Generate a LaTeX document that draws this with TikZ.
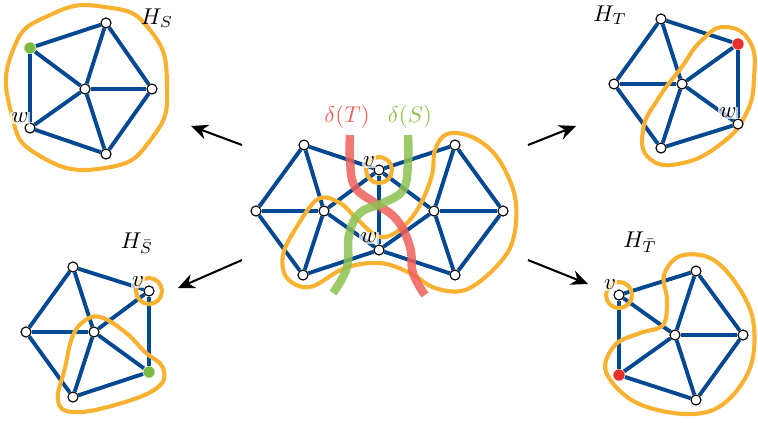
\documentclass[tikz,border=0pt]{standalone}
\usetikzlibrary{arrows.meta, backgrounds, positioning}
\definecolor{edgeblue}{HTML}{034891}
\definecolor{hullor}{HTML}{F9B132}
\definecolor{cutred}{HTML}{F0605A}
\definecolor{cutgreen}{HTML}{8CC151}
\definecolor{vred}{HTML}{E8302B}
\definecolor{vgreen}{HTML}{7DBB42}
\tikzset{
  % vertice del grafo
  vtx/.style={circle, draw=black, fill=white, line width=0.5pt, minimum size=4.4pt,
    inner sep=0pt},
  vtx green/.style={vtx, draw=none, fill=vgreen, minimum size=5pt},
  vtx red/.style={vtx, draw=none, fill=vred, minimum size=5pt},
  % spigoli
  gedge/.style={line width=1.7pt, edgeblue},
  % regione evidenziata
  hull/.style={line width=1.8pt, hullor},
  % tagli
  cut T/.style={line width=3.7pt, cutred, opacity=0.85},
  cut S/.style={line width=3.7pt, cutgreen, opacity=0.85},
  % freccia verso il sottografo
  mapto/.style={-{Stealth[length=2.6mm, width=2.3mm]}, line width=0.9pt},
  % etichette
  vlbl/.style={fill=white, fill opacity=0.7, text opacity=1, inner sep=0.5pt},
  glbl/.style={inner sep=1pt},
}
\begin{document}
\begin{tikzpicture}[x=0.0154cm, y=-0.0154cm]
  \useasboundingbox (0,0) rectangle (758,422);
  \foreach \n/\x/\y in {cTL/304/145, cL/256/211, cHL/324/211, cBL/303/275, cv/379/170,
      cw/379/250, cHR/434/211, cTR/455/145, cR/503/211, cBR/455/275,
      sT/106/23, sH/85/89, sR/152/89, sW/30/128, sB/106/154,
      tT/661/19, tL/614/84, tH/682/84, tW/738/124, tB/661/148,
      bT/73/267, bv/149/291, bL/26/332, bH/94/332, bB/73/397,
      dv/619/295, dT/696/271, dH/675/335, dR/743/335, dB/696/400}
    \node[vtx] (\n) at (\x,\y) {};
  \node[vtx green] (sG) at (30,48) {};
  \node[vtx green] (bG) at (149,372) {};
  \node[vtx red] (tRd) at (738,44) {};
  \node[vtx red] (dRd) at (619,375) {};

  \begin{pgfonlayer}{background}
    \foreach \a/\b in {cTL/cL, cL/cBL, cTL/cHL, cL/cHL, cBL/cHL, cTL/cv, cv/cHL, cHL/cw,
        cBL/cw, cv/cw, cv/cTR, cv/cHR, cHR/cw, cw/cBR, cTR/cHR, cTR/cR, cR/cHR, cR/cBR,
        cBR/cHR,
        sT/sG, sT/sR, sR/sB, sB/sW, sW/sG, sH/sT, sH/sG, sH/sR, sH/sB, sH/sW,
        tT/tRd, tRd/tW, tW/tB, tB/tL, tL/tT, tH/tT, tH/tRd, tH/tW, tH/tB, tH/tL,
        bT/bv, bv/bG, bG/bB, bB/bL, bL/bT, bH/bT, bH/bv, bH/bG, bH/bB, bH/bL,
        dv/dT, dT/dR, dR/dB, dB/dRd, dRd/dv, dH/dv, dH/dT, dH/dR, dH/dB, dH/dRd}
      \draw[gedge] (\a) -- (\b);

    \draw[hull] plot[smooth cycle, tension=0.9] coordinates {(105,7) (150,30) (167,85)
      (152,138) (105,168) (40,156) (11,112) (13,50) (50,15)};
    \draw[hull] plot[smooth cycle, tension=0.8] coordinates {(725,27) (750,42) (754,78)
      (746,114) (722,143) (683,163) (650,159) (643,130) (658,99) (681,68) (701,41)};
    \draw[hull] plot[smooth cycle, tension=0.6] coordinates {(447,134) (472,137) (497,157)
      (515,197) (513,240) (495,268) (465,290) (435,288) (410,273) (380,263) (345,268)
      (310,287) (287,278) (283,255) (296,228) (318,199) (340,203) (358,220) (380,237)
      (402,228) (420,205) (432,175) (435,150)};
    \draw[hull] plot[smooth cycle, tension=0.7] coordinates {(100,317) (125,332) (145,352)
      (163,368) (157,388) (115,405) (73,412) (58,400) (65,368) (72,338) (83,322)};
    \draw[hull] plot[smooth cycle, tension=0.6] coordinates {(680,256) (710,258) (735,282)
      (753,320) (750,368) (722,405) (685,414) (635,402) (606,372) (615,345) (640,333)
      (663,325) (667,300) (664,275)};
    \draw[hull] (cv) circle[radius=13];
    \draw[hull] (bv) circle[radius=13];
    \draw[hull] (dv) circle[radius=13];

    \draw[cut T] plot[smooth, tension=0.7] coordinates {(350,135) (350,160) (355,187)
      (375,203) (397,220) (410,247) (413,273) (425,295)};
    \draw[cut S] plot[smooth, tension=0.7] coordinates {(408,135) (408,163) (403,190)
      (383,203) (360,213) (349,235) (347,267) (333,293)};
  \end{pgfonlayer}

  \node[vlbl] (lsw) at (20,118) {$w$};
  \node[vlbl] (ltw) at (728,113) {$w$};
  \node[vlbl] (lcv) at (369,162) {$v$};
  \node[vlbl] (lcw) at (369,238) {$w$};
  \node[vlbl] (lbv) at (138,282) {$v$};
  \node[vlbl] (ldv) at (610,285) {$v$};

  \node[glbl] (hs) at (157,18) {$H_S$};
  \node[glbl] (ht) at (610,15) {$H_T$};
  \node[glbl] (hsb) at (137,243) {$H_{\bar S}$};
  \node[glbl] (htb) at (640,242) {$H_{\bar T}$};
  \node[glbl, text=cutred] (dT) at (347,117) {$\delta(T)$};
  \node[glbl, text=cutgreen] (dS) at (410,117) {$\delta(S)$};

  \coordinate (aS0) at (242,145);  \coordinate (aS1) at (191,126);
  \coordinate (aT0) at (528,145);  \coordinate (aT1) at (576,126);
  \coordinate (aSb0) at (242,260); \coordinate (aSb1) at (178,288);
  \coordinate (aTb0) at (528,260); \coordinate (aTb1) at (588,284);
  \draw[mapto] (aS0) -- (aS1);
  \draw[mapto] (aT0) -- (aT1);
  \draw[mapto] (aSb0) -- (aSb1);
  \draw[mapto] (aTb0) -- (aTb1);
\end{tikzpicture}
\end{document}
